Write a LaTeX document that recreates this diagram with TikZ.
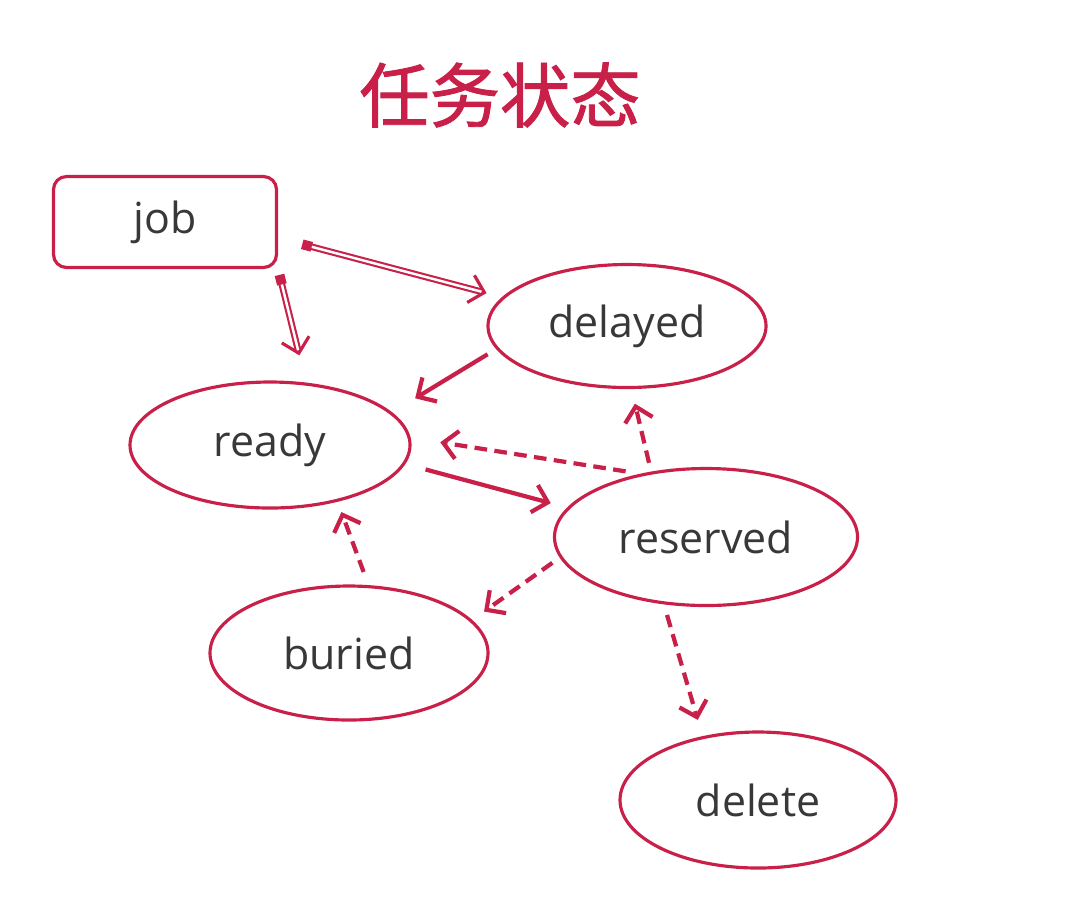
\documentclass[tikz,border=0pt]{standalone}
\usepackage{fontspec}
\setmainfont{Open Sans}
\newfontfamily\cjk[FakeBold=1.3]{Noto Sans CJK SC}
\usepackage{tikz}
\usetikzlibrary{arrows.meta,shapes.geometric}
\definecolor{rose}{RGB}{200,32,72}
\definecolor{ink}{RGB}{56,56,56}

\tikzset{
  state/.style={ellipse,draw=rose,line width=0.9pt,text=ink,inner sep=0pt,
    font=\fontsize{12.2}{14}\selectfont},
  jobbox/.style={rectangle,rounded corners=0.13cm,draw=rose,line width=0.9pt,
    text=ink,inner sep=0pt,minimum width=2.23cm,minimum height=0.91cm,
    font=\fontsize{12.2}{14}\selectfont},
  flow/.style={draw=rose,line width=1.2pt,-{Straight Barb[length=4pt,width=8pt]}},
  maybe/.style={flow,dash pattern=on 3.6pt off 2.1pt},
  spawn/.style 2 args={draw=rose,line width=1.9pt,shorten <=#1,shorten >=#2,
    {Square[length=2.8pt,width=2.8pt]}-{Straight Barb[length=4pt,width=8pt,line width=0.9pt]},
    postaction={draw=white,line width=0.7pt,-,shorten <=#1+2.8pt,shorten >=#2+1.5pt}}
}

\begin{document}
\begin{tikzpicture}[x=1cm,y=1cm]
    \useasboundingbox (0,0) rectangle (10.92,9.02);
    % title
    \node[text=rose,font=\fontsize{20}{24}\selectfont] (title) at (5.00,8.07) {\cjk 任务状态};
    % states
    \node[jobbox] (job) at (1.65,6.80) {job};
    \node[state,minimum width=2.78cm,minimum height=1.23cm] (delayed) at (6.27,5.76) {delayed};
    \node[state,minimum width=2.80cm,minimum height=1.26cm] (ready) at (2.70,4.57) {ready};
    \node[state,minimum width=3.03cm,minimum height=1.37cm] (reserved) at (7.06,3.65) {reserved};
    \node[state,minimum width=2.78cm,minimum height=1.34cm] (buried) at (3.49,2.49) {buried};
    \node[state,minimum width=2.76cm,minimum height=1.36cm] (delete) at (7.58,1.02) {delete};
    % new jobs
    \draw[spawn={0.25cm}{0.16cm}] (job.-8) -- (delayed.167);
    \draw[spawn={0.06cm}{0.28cm}] (job.south east) -- (ready.60);
    % solid moves
    \draw[flow,shorten <=0.1cm,shorten >=0.27cm] (delayed.190) -- (ready.15);
    \draw[flow,shorten <=0.21cm,shorten >=0.17cm] (ready.-8) -- (reserved.168);
    % dashed moves
    \draw[maybe,shorten <=0.15cm,shorten >=0.3cm] (reserved.136) -- (ready.3);
    \draw[maybe,shorten <=0.09cm,shorten >=0.15cm] (reserved.130) -- (delayed.-86);
    \draw[maybe,shorten <=0.09cm,shorten >=0.145cm] (reserved.188) -- (buried.15);
    \draw[maybe,shorten <=0.14cm,shorten >=0.11cm] (buried.74) -- (ready.-40);
    \draw[maybe,shorten <=0.11cm,shorten >=0.17cm] (reserved.238) -- (delete.131);
\end{tikzpicture}
\end{document}
